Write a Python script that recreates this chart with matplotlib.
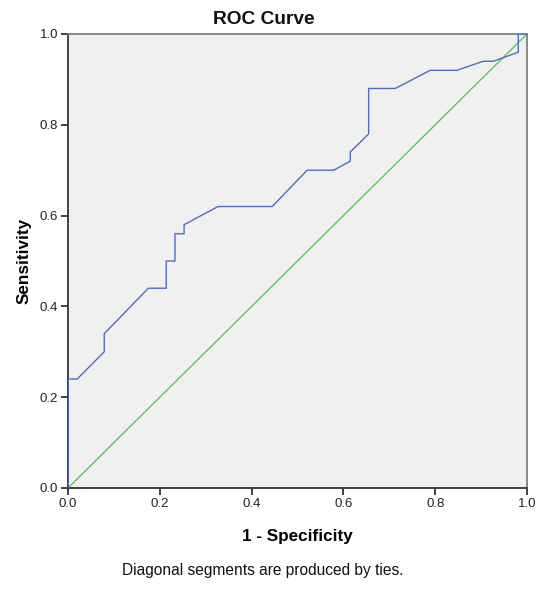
import numpy as np
import matplotlib
matplotlib.use('Agg')
import matplotlib.pyplot as plt

plt.rcParams['font.family'] = ['Liberation Sans', 'DejaVu Sans']

# ROC points (1 - specificity, sensitivity)
fpr = [0.0, 0.0, 0.02, 0.079, 0.079, 0.175, 0.214, 0.214, 0.233, 0.233,
       0.253, 0.253, 0.327, 0.445, 0.521, 0.579, 0.615, 0.615, 0.655, 0.655,
       0.713, 0.789, 0.847, 0.905, 0.927, 0.981, 0.981, 1.0]
tpr = [0.0, 0.24, 0.24, 0.30, 0.34, 0.44, 0.44, 0.50, 0.50, 0.56,
       0.56, 0.58, 0.62, 0.62, 0.70, 0.70, 0.72, 0.74, 0.78, 0.88,
       0.88, 0.92, 0.92, 0.94, 0.94, 0.96, 1.0, 1.0]
ref_line = [0.0, 1.0]
ticks = [0.0, 0.2, 0.4, 0.6, 0.8, 1.0]

fig = plt.figure(figsize=(5.5, 5.91), dpi=100)
ax = fig.add_axes([68/550, 1-488/591, (527-68)/550, (488-34)/591])
ax.set_facecolor('#f0f0f0')

ax.plot(ref_line, ref_line, color='#5ac85a', lw=1.0, zorder=2)
ax.plot(fpr, tpr, color='#4f6cc0', lw=1.0, zorder=3)

ax.set_xlim(0, 1)
ax.set_ylim(0, 1)
ax.set_xticks(ticks)
ax.set_yticks(ticks)
ax.set_xticklabels(['%.1f' % t for t in ticks])
ax.set_yticklabels(['%.1f' % t for t in ticks])
ax.tick_params(direction='out', length=5, width=1.2, labelsize=9.5, colors='#222222', pad=2)

for s in ['left', 'bottom']:
    ax.spines[s].set_color('#333333')
    ax.spines[s].set_linewidth(1.3)
for s in ['top', 'right']:
    ax.spines[s].set_color('#808080')
    ax.spines[s].set_linewidth(1.3)

# title and footnote are centred on the whole chart, not the axes
fig.text(264/550, 1-20/591, 'ROC Curve', ha='center', va='center',
         fontsize=13.8, fontweight='bold', color='#111111')
ax.set_xlabel('1 - Specificity', fontsize=12.3, fontweight='bold', labelpad=14)
ax.set_ylabel('Sensitivity', fontsize=12.3, fontweight='bold', labelpad=6)

fig.text(263/550, 1-571/591, 'Diagonal segments are produced by ties.',
         ha='center', va='center', fontsize=11.2, color='#111111')

fig.savefig('out.png', dpi=100)
